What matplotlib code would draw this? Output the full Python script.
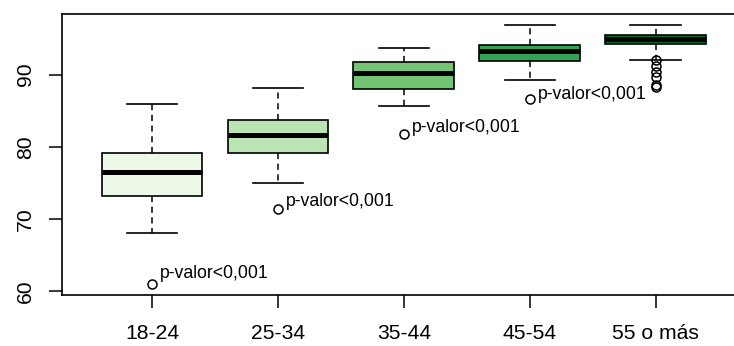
import numpy as np
import matplotlib
matplotlib.use('Agg')
import matplotlib.pyplot as plt

plt.rcParams['font.family'] = ['Liberation Sans', 'DejaVu Sans']

# --- données ---
groups = ['18-24', '25-34', '35-44', '45-54', '55 o más']
whislo = [68.1, 75.0, 85.7, 89.3, 92.0]
q1 = [73.2, 79.1, 88.0, 91.9, 94.2]
med = [76.5, 81.6, 90.2, 93.3, 94.9]
q3 = [79.2, 83.7, 91.8, 94.1, 95.5]
whishi = [85.9, 88.1, 93.7, 96.9, 96.9]
outliers = [[61.0], [71.4], [81.8], [86.6], [92.0, 91.2, 90.4, 89.7, 88.6, 88.3]]
colors = ['#EDF8E9', '#BAE4B3', '#74C476', '#31A354', '#006D2C']
annot_text = 'p-valor<0,001'
annot_y = [62.5, 72.5, 82.7, 87.3]

W, H = 734, 346
fig = plt.figure(figsize=(W / 100, H / 100), dpi=100)
ax = fig.add_axes([62 / W, (H - 295) / H, 681.7 / W, 281 / H])

stats = []
for i in range(len(groups)):
    stats.append({'whislo': whislo[i], 'q1': q1[i], 'med': med[i],
                  'q3': q3[i], 'whishi': whishi[i], 'fliers': outliers[i]})

pos = np.arange(1, len(groups) + 1)
bp = ax.bxp(stats, positions=pos, widths=0.8, capwidths=0.4, patch_artist=True,
            boxprops=dict(edgecolor='black', linewidth=1.2),
            medianprops=dict(color='black', linewidth=3.6, solid_capstyle='butt'),
            whiskerprops=dict(color='black', linewidth=1.1, linestyle=(0, (4, 3))),
            capprops=dict(color='black', linewidth=1.2),
            flierprops=dict(marker='o', markerfacecolor='none', markeredgecolor='black',
                            markersize=6.5, markeredgewidth=1.1))
for patch, c in zip(bp['boxes'], colors):
    patch.set_facecolor(c)

for i, y in enumerate(annot_y):
    ax.text(pos[i] + 0.064, y, annot_text, ha='left', va='center', fontsize=12.7)

ax.set_xlim(0.285, 5.7)
ax.set_ylim(59.49, 98.4)
ax.set_xticks(pos)
ax.set_xticklabels(groups)
ax.set_yticks([60, 70, 80, 90])
ax.tick_params(axis='x', length=9.4, width=1.1, pad=11.5, labelsize=15.2)
ax.tick_params(axis='y', length=9.4, width=1.1, pad=10, labelsize=15.2)
plt.setp(ax.get_yticklabels(), rotation=90, va='center')
for s in ax.spines.values():
    s.set_linewidth(1.2)

fig.savefig('out.png', dpi=100)
